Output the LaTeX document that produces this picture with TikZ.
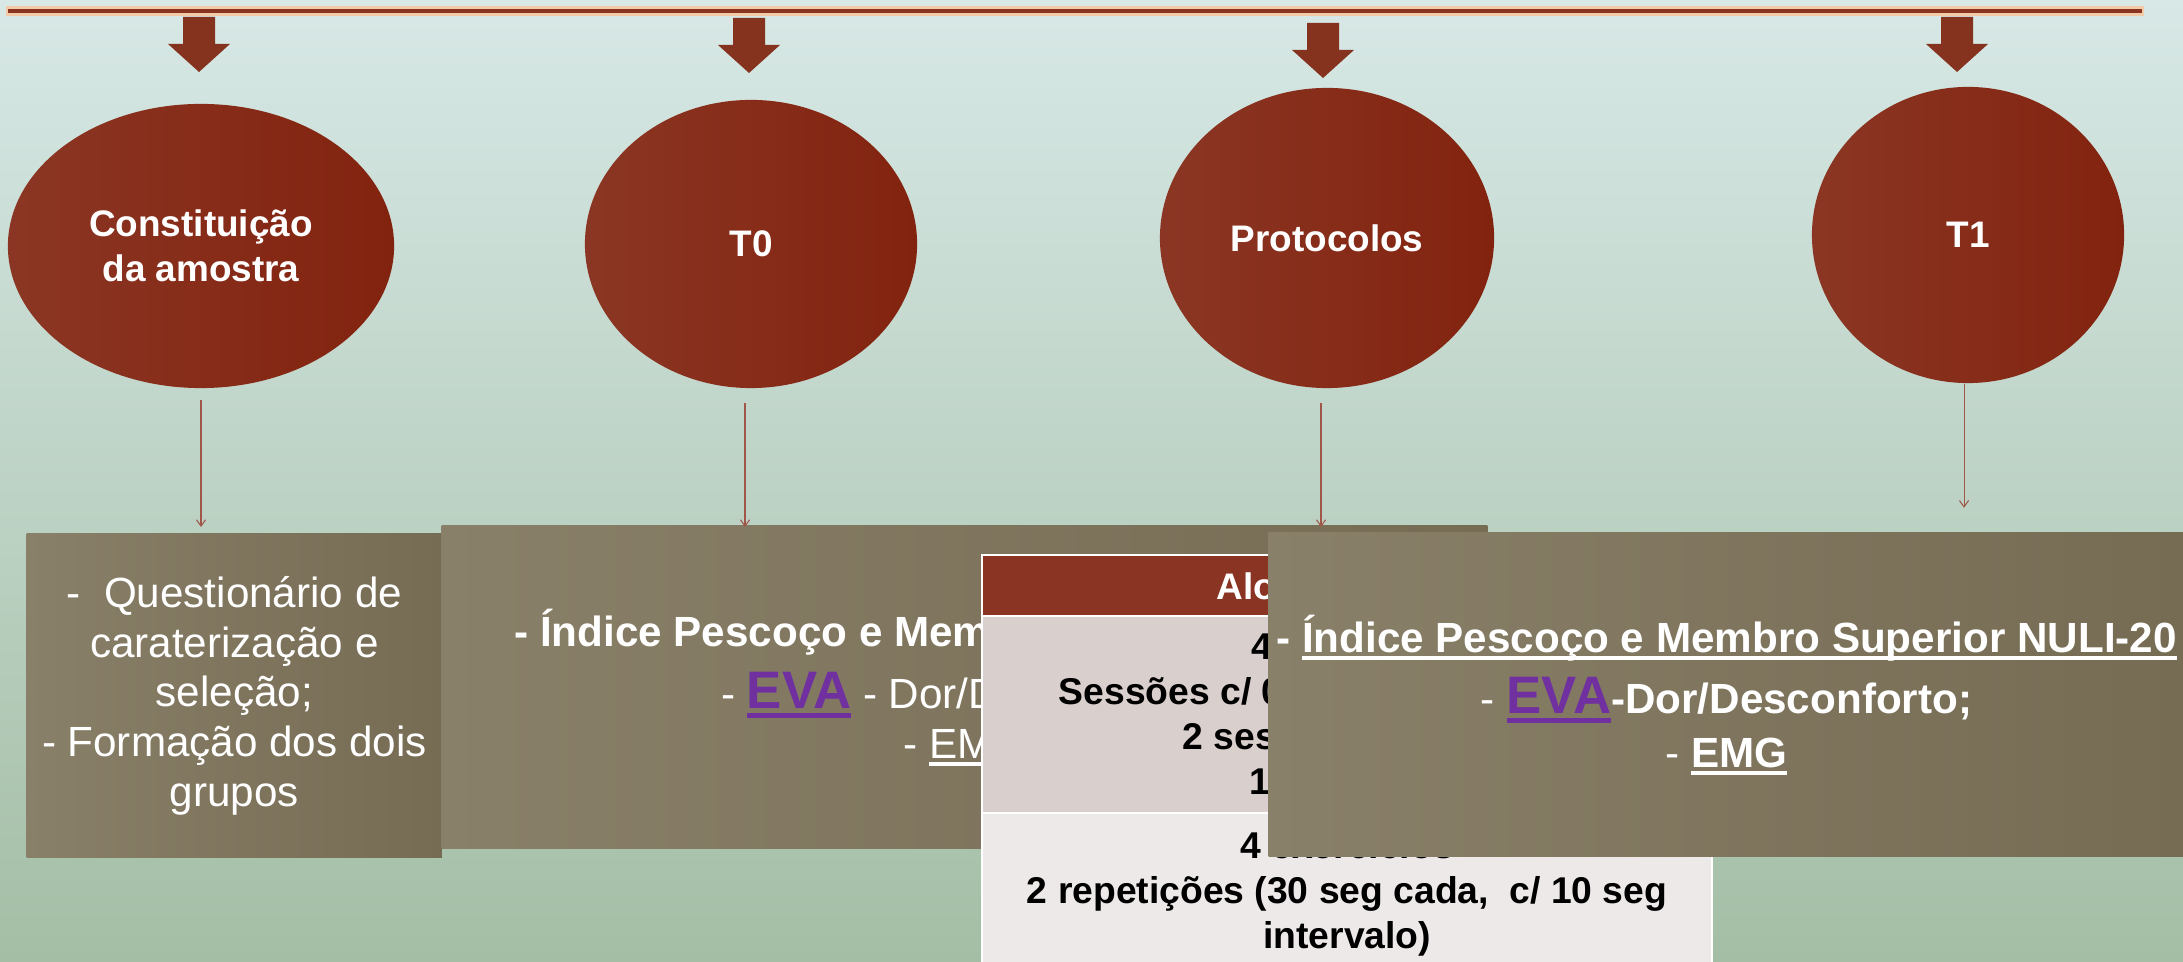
\documentclass[tikz,border=0pt]{standalone}
\usepackage{fontspec}
\setmainfont{Liberation Sans}
\usepackage{tikz}
\usetikzlibrary{calc, arrows.meta, shapes.geometric}
\usepackage{xcolor}
\definecolor{fundoTopo}{HTML}{D7E8E6}
\definecolor{fundoMeio}{HTML}{B7D4CF}
\definecolor{fundoBase}{HTML}{A4BEA5}
\definecolor{barraCor}{HTML}{8B3322}
\definecolor{barraBrilho}{HTML}{F3CBA8}
\definecolor{setaCor}{HTML}{85321F}
\definecolor{elipseEsq}{HTML}{8B3624}
\definecolor{elipseMeio}{HTML}{952B16}
\definecolor{elipseDir}{HTML}{82230F}
\definecolor{caixaEsq}{HTML}{898069}
\definecolor{caixaDir}{HTML}{766B53}
\definecolor{tabCabecalho}{HTML}{8A3424}
\definecolor{tabLinha1}{HTML}{D9CFCD}
\definecolor{tabLinha2}{HTML}{EDE9E8}
\definecolor{roxoEva}{HTML}{7030A0}
\definecolor{ligaCor}{HTML}{A0574A}
\newcommand{\sublinha}[1]{\setbox0\hbox{#1}\rlap{\rule[-0.18em]{\wd0}{0.09em}}\box0}

\begin{document}
\begin{tikzpicture}[x=0.01cm, y=-0.01cm,
    elipse/.style={ellipse, inner sep=0pt, left color=elipseEsq, middle color=elipseMeio, right color=elipseDir, text=white, align=center, font=\fontsize{10.5}{12.8}\selectfont\bfseries},
    caixa/.style={rectangle, inner sep=0pt, anchor=north west, left color=caixaEsq, right color=caixaDir, text=white, align=center, font=\fontsize{12}{14.2}\selectfont},
    celula/.style={rectangle, inner sep=0pt, anchor=north west, draw=white, line width=0.5pt, minimum width=7.3cm},
    textotab/.style={anchor=base west, inner sep=0pt, font=\fontsize{10.6}{12.8}\selectfont\bfseries},
    ligacao/.style={draw=ligaCor, line width=0.3pt, -{Straight Barb[length=1.8pt,width=2.6pt]}}]
    % Fundo
    \shade[top color=fundoTopo, middle color=fundoMeio, bottom color=fundoBase] (0,0) rectangle (2183,962);
    \useasboundingbox (0,0) rectangle (2183,962);
    % Linha do tempo
    \draw[barraBrilho, line width=2.8pt] (6,11) -- (2144,11);
    \draw[barraCor, line width=1.3pt] (8,11) -- (2142,11);
    \foreach \x/\t in {199/17, 749/18, 1323/23, 1957/17}
        \fill[setaCor] (\x-16,\t) -- (\x+16,\t) -- (\x+16,\t+27) -- (\x+31,\t+27) -- (\x,\t+55) -- (\x-31,\t+27) -- (\x-16,\t+27) -- cycle;
    % Etapas
    \node[elipse, minimum width=3.86cm, minimum height=2.84cm] (constituicao) at (201,246) {Constituição\\da amostra};
    \node[elipse, minimum width=3.32cm, minimum height=2.88cm] (t0) at (751,244) {T0};
    \node[elipse, minimum width=3.34cm, minimum height=3.0cm] (protocolos) at (1327,238) {Protocolos};
    \node[elipse, minimum width=3.12cm, minimum height=2.96cm] (t1) at (1968,235) {T1};
    % Caixas
    \node[caixa, minimum width=4.15cm, minimum height=3.24cm] (amostra) at (26,533)
        {-~ Questionário de\\caraterização e\\seleção;\\- Formação dos dois\\grupos};
    \node[caixa, minimum width=10.45cm, minimum height=3.23cm] (avalT0) at (441,525)
        {\textbf{- Índice Pescoço e Membro Superior NULI-20}\\[3.4pt]
         - {\fontsize{15}{15}\selectfont\bfseries\color{roxoEva}\sublinha{EVA}} - Dor/Desconforto;\\
         - \sublinha{EMG}};
    % Tabela dos protocolos
    \node[celula, fill=tabCabecalho, minimum height=0.61cm] (cabecalho) at (981,554) {};
    \node[celula, fill=tabLinha1, minimum height=1.97cm] (linha1) at (981,615) {};
    \node[celula, fill=tabLinha2, minimum height=1.62cm, align=center, font=\fontsize{10.6}{12.8}\selectfont\bfseries] (linha2) at (981,812)
        {4 exercícios\\2 repetições (30 seg cada,~ c/ 10 seg\\intervalo)};
    \node[anchor=base west, inner sep=0pt, text=white, font=\fontsize{10.5}{12}\selectfont\bfseries] (titulo) at (1216,600) {Alo};
    \node[textotab] (sessoes1) at (1251,660) {4};
    \node[textotab] (sessoes2) at (1058,705) {Sessões c/ 0};
    \node[textotab] (sessoes3) at (1182,750) {2 ses};
    \node[textotab] (sessoes4) at (1249,795) {1};
    % Ligacoes
    \draw[ligacao] ($(constituicao.south)+(0,11)$) -- ($(constituicao.south |- amostra.north)+(0,-6)$);
    \draw[ligacao] ($(t0.south)+(-6,14)$) -- ($(t0.south |- avalT0.north)+(-6,2)$);
    \draw[ligacao] ($(protocolos.south)+(-6,14)$) -- ($(protocolos.south |- cabecalho.north)+(-6,-27)$);
    \draw[ligacao] ($(t1.south)+(-4,0)$) -- ($(t1.south)+(-4,124)$);
    % Caixa T1
    \node[caixa, minimum width=9.15cm, minimum height=3.24cm] (avalT1) at (1268,532)
        {\textbf{- \sublinha{Índice Pescoço e Membro Superior NULI-20}}\\[3.2pt]
         - {\fontsize{15}{15}\selectfont\bfseries\color{roxoEva}\sublinha{EVA}}\textbf{-Dor/Desconforto;}\\[1.2pt]
         - \textbf{\sublinha{EMG}}};
\end{tikzpicture}
\end{document}
